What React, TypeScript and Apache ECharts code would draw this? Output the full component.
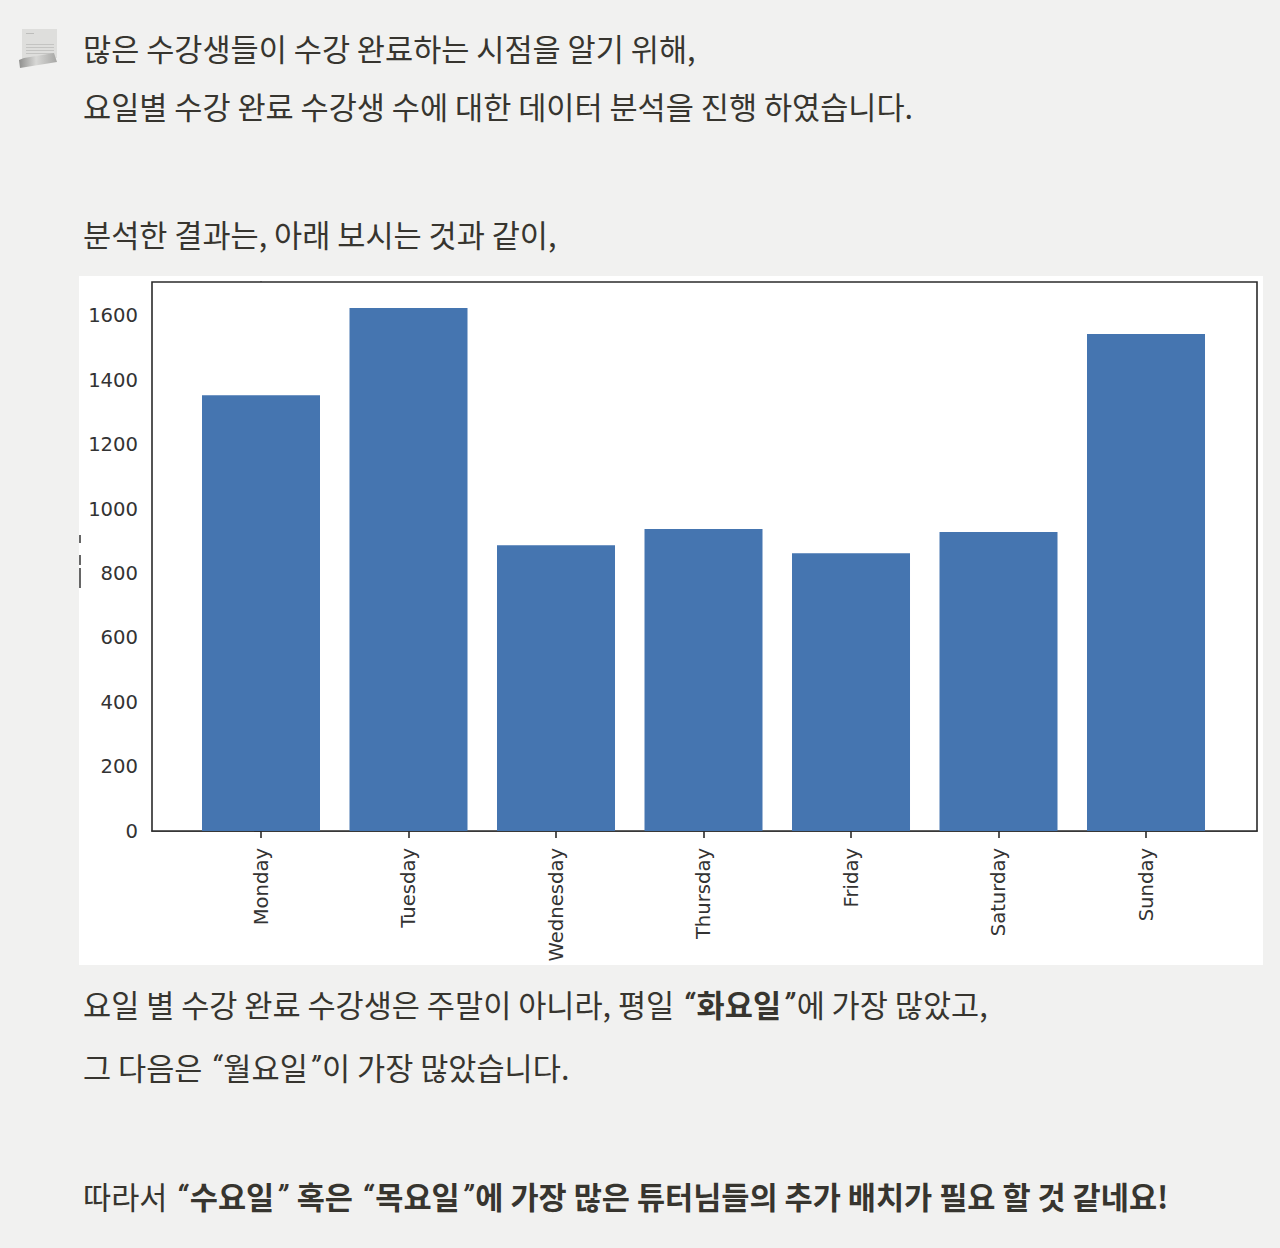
import React, { useEffect, useRef } from "react";
import * as echarts from "echarts";

const days = ["Monday", "Tuesday", "Wednesday", "Thursday", "Friday", "Saturday", "Sunday"];
const completions = [1354, 1625, 888, 938, 863, 929, 1544];
const yTicks = [0, 200, 400, 600, 800, 1000, 1200, 1400, 1600];
const line1 = "많은 수강생들이 수강 완료하는 시점을 알기 위해,";
const line2 = "요일별 수강 완료 수강생 수에 대한 데이터 분석을 진행 하였습니다.";
const line3 = "분석한 결과는, 아래 보시는 것과 같이,";
const line4 = "요일 별 수강 완료 수강생은 주말이 아니라, 평일 {q|“}{b|화요일}{q|”}에 가장 많았고,";
const line5 = "그 다음은 {r|“}월요일{r|”}이 가장 많았습니다.";
const line6 = "따라서 {q|“}{b|수요일}{q|”} {b|혹은} {q|“}{b|목요일}{q|”}{b|에 가장 많은 튜터님들의 추가 배치가 필요 할 것 같네요!}";

const KR = '"Noto Sans CJK KR", "Noto Sans", sans-serif';
const INK = "#37352f";
const AXIS = "#2b2b2b";
const FS = 30.6;

function para(text: string, y: number) {
  const qStyle = { fontFamily: "Roboto, sans-serif", fontStyle: "italic", fontSize: 29, color: INK, fill: INK, padding: [0, 2, 0, 2] };
  return {
    type: "text",
    x: 83,
    y,
    z: 5,
    style: {
      text,
      fill: INK,
      font: `400 ${FS}px ${KR}`,
      verticalAlign: "middle",
      rich: {
        b: { fontFamily: KR, fontSize: FS, fontWeight: 700, fill: INK, color: INK },
        q: { ...qStyle, fontWeight: 700 },
        r: { ...qStyle, fontWeight: 400 },
      },
    },
  };
}

function iconLines() {
  const rows = [44, 47, 50, 53];
  return rows.map((y) => ({ type: "rect", z: 6, shape: { x: 26, y, width: 28, height: 1 }, style: { fill: "#c4c4c2" } }));
}

export default function App() {
  const ref = useRef<HTMLDivElement>(null);
  useEffect(() => {
    const chart = echarts.init(ref.current!, undefined, { renderer: "svg" });
    const curl = new echarts.graphic.LinearGradient(0, 0, 1, 0, [
      { offset: 0, color: "#8f8f8d" },
      { offset: 0.45, color: "#d8d8d6" },
      { offset: 1, color: "#a6a6a4" },
    ]);
    chart.setOption({
      animation: false,
      backgroundColor: "#f1f1f0",
      grid: { left: 152, top: 282, width: 1105, height: 549, show: true, backgroundColor: "#fff", borderColor: AXIS, borderWidth: 1.6, z: 3 },
      xAxis: {
        type: "value",
        min: -0.739,
        max: 6.7525,
        splitLine: { show: false },
        axisLine: { show: true, onZero: false, lineStyle: { color: AXIS, width: 1.6 } },
        axisTick: { show: true, customValues: days.map((_, i) => i), length: 7, lineStyle: { color: AXIS, width: 1.6 } },
        axisLabel: {
          customValues: days.map((_, i) => i),
          formatter: (v: number) => days[Math.round(v)],
          rotate: 90,
          margin: 17,
          fontSize: 19.6,
          color: "#333",
          fontFamily: '"DejaVu Sans", sans-serif',
        },
      },
      yAxis: {
        type: "value",
        min: 0,
        max: 1705.5,
        splitLine: { show: false },
        axisLine: { show: true, lineStyle: { color: AXIS, width: 1.6 } },
        axisTick: { show: true, customValues: yTicks, length: 7, lineStyle: { color: AXIS, width: 1.6 } },
        axisLabel: {
          customValues: yTicks,
          formatter: (v: number) => String(v),
          margin: 14,
          padding: [2, 0, 0, 0],
          fontSize: 19.6,
          color: "#333",
          fontFamily: '"DejaVu Sans", sans-serif',
        },
      },
      series: [
        {
          type: "bar",
          data: completions.map((v, i) => [i, v]),
          barWidth: 118,
          itemStyle: { color: "#4575b0" },
          z: 4,
        },
      ],
      graphic: [
        { type: "rect", z: -10, shape: { x: 79, y: 276, width: 1184, height: 689 }, style: { fill: "#fff" } },
        { type: "rect", z: 5, shape: { x: 79, y: 535, width: 2, height: 8 }, style: { fill: "#666" } },
        { type: "rect", z: 5, shape: { x: 79, y: 555, width: 2, height: 10 }, style: { fill: "#666" } },
        { type: "rect", z: 5, shape: { x: 79, y: 568, width: 2, height: 20 }, style: { fill: "#666" } },
        { type: "polygon", z: 5, shape: { points: [[22, 29], [57, 29], [57, 58], [22, 62]] }, style: { fill: "#dededc" } },
        { type: "rect", z: 6, shape: { x: 26, y: 33, width: 8, height: 1 }, style: { fill: "#bdbdbb" } },
        ...iconLines(),
        { type: "polygon", z: 7, shape: { points: [[19, 60], [24, 58], [54, 53], [57, 62], [20, 68]] }, style: { fill: curl } },
        para(line1, 48),
        para(line2, 106),
        para(line3, 234),
        para(line4, 1004),
        para(line5, 1067),
        para(line6, 1196),
      ],
    });
    return () => chart.dispose();
  }, []);
  return <div ref={ref} style={{ position: "absolute", left: 0, top: 0, width: 1280, height: 1248 }} />;
}
